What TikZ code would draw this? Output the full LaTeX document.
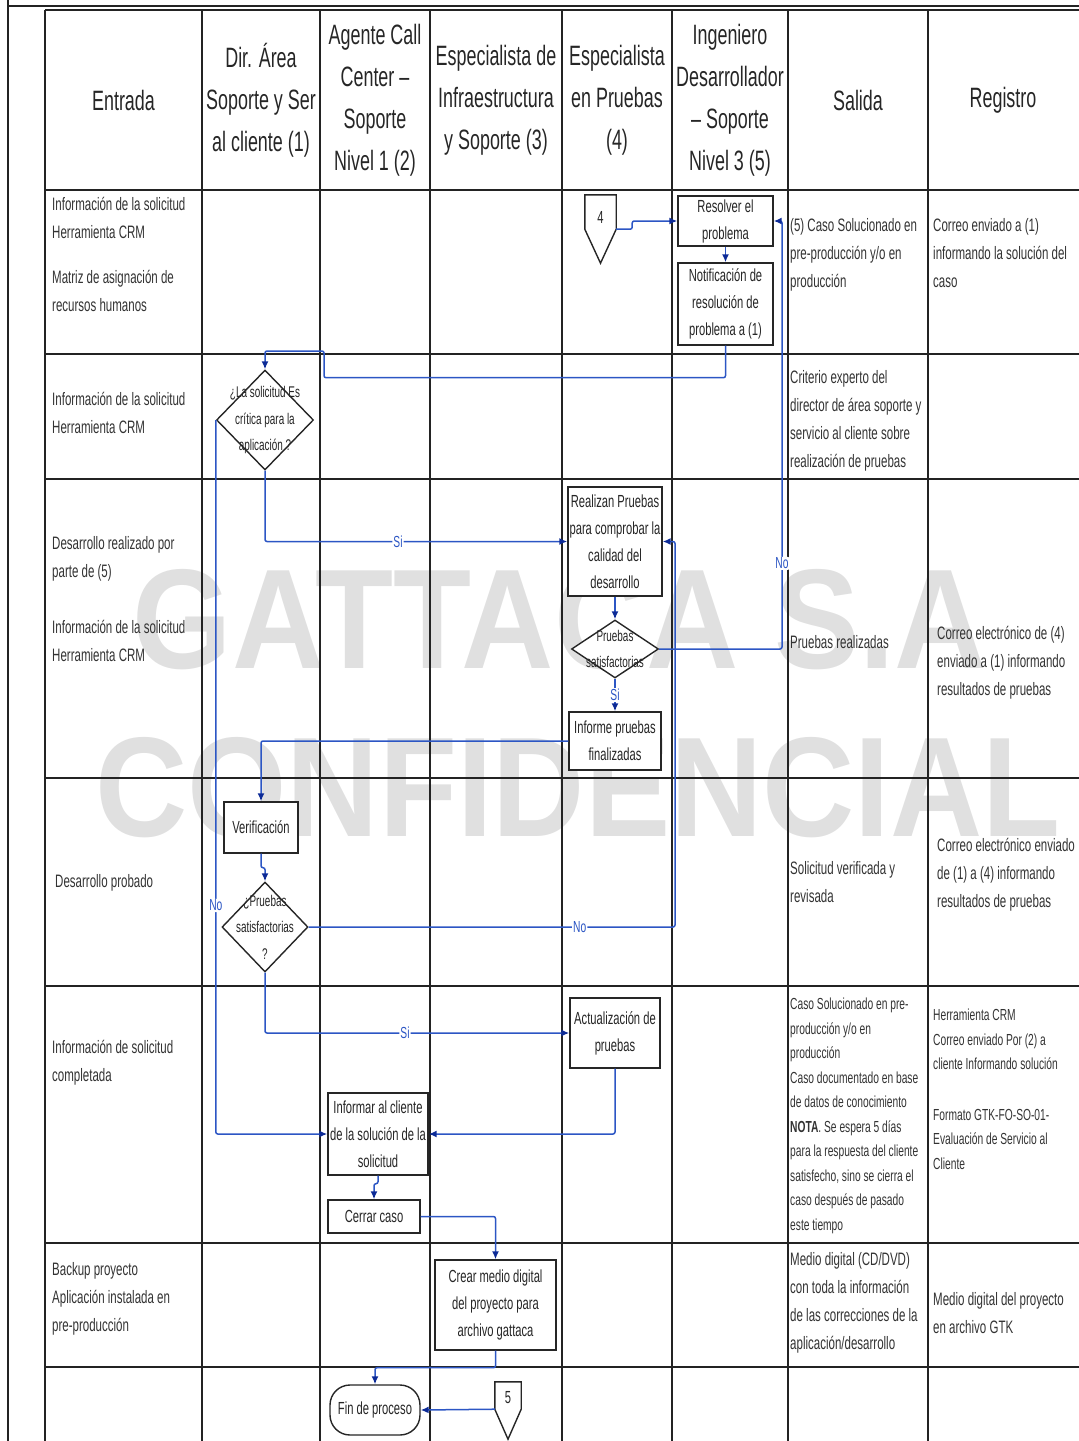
\documentclass[tikz,border=0pt]{standalone}
\usepackage{fontspec}
\setmainfont{Liberation Sans}[FakeStretch=0.64]
\newfontfamily\wmfont{Liberation Sans}[FakeStretch=0.9]
\usepackage{tikz}
\usetikzlibrary{arrows.meta, shapes.geometric, positioning}
\usepackage{xcolor}
\definecolor{flowblue}{RGB}{44,86,196}
\definecolor{tipblue}{RGB}{12,42,150}
\definecolor{gridgray}{RGB}{35,35,35}

\newcommand{\hdtxt}{\fontsize{28}{42}\selectfont}
\newcommand{\celltxt}{\fontsize{18}{28}\selectfont}
\newcommand{\smalltxt}{\fontsize{16}{24.5}\selectfont}
\newcommand{\boxtxt}{\fontsize{17.5}{27}\selectfont}
\newcommand{\dectxt}{\fontsize{15.5}{26.5}\selectfont}
\newcommand{\lbltxt}{\fontsize{16}{18}\selectfont}

\tikzset{
  grid/.style={draw=gridgray, line width=2.2pt},
  header/.style={align=center, font=\hdtxt, text=black!85},
  celltext/.style={
    anchor=north west, align=left, inner sep=0pt,
    font=\celltxt, text=black!80
  },
  activity/.style={
    rectangle, draw=black!85, line width=1.4pt, fill=white,
    align=center, font=\boxtxt, text=black!85, inner sep=1pt
  },
  decision/.style={
    diamond, draw=black!85, line width=1.4pt, fill=white, inner sep=0pt
  },
  dectext/.style={align=center, font=\dectxt, text=black!85, inner sep=0pt},
  offpage/.style={rectangle, inner sep=0pt, font=\boxtxt, text=black!85},
  offline/.style={draw=black!85, line width=1.4pt, fill=white},
  terminal/.style={
    rectangle, rounded corners=20pt, draw=black!85, line width=1.4pt,
    fill=white, align=center, font=\boxtxt, text=black!85
  },
  flow/.style={
    draw=flowblue, line width=1.5pt, rounded corners=2pt,
    -{Latex[length=8pt, width=7pt, color=tipblue]}
  },
  flowlbl/.style={fill=white, text=flowblue, font=\lbltxt, inner sep=1pt},
  watermark/.style={
    font=\wmfont\bfseries\fontsize{142}{142}\selectfont, text=black!12
  }
}

\begin{document}
\begin{tikzpicture}[x=1pt, y=-1pt]
  \useasboundingbox (0,0) rectangle (1079,1441);

  \node[watermark] (wm1) at (560,620) {GATTACA S.A};
  \node[watermark] (wm2) at (578,788) {CONFIDENCIAL};

  \draw[grid, line width=2.6pt] (8,0) -- (8,1441);
  \draw[grid, line width=2.6pt] (8,6) -- (1079,6);
  \foreach \y in {10,190,354,479,778,986,1243,1367}
    \draw[grid] (45,\y) -- (1079,\y);
  \foreach \x in {45,202,320,430,562,672,788,928}
    \draw[grid] (\x,10) -- (\x,1441);

  \node[header] (h-in) at (123.5,100) {Entrada};
  \node[header] (h-dir) at (261,100) {Dir. Área\\Soporte y Ser\\al cliente (1)};
  \node[header] (h-agt) at (375,100) {Agente Call\\Center –\\Soporte\\Nivel 1 (2)};
  \node[header] (h-inf) at (496,100) {Especialista de\\Infraestructura\\y Soporte (3)};
  \node[header] (h-pru) at (617,100) {Especialista\\en Pruebas\\(4)};
  \node[header] (h-dev) at (730,100) {Ingeniero\\Desarrollador\\– Soporte\\Nivel 3 (5)};
  \node[header] (h-out) at (858,100) {Salida};
  \node[header] (h-reg) at (1003,100) {Registro};

  \node[celltext] (in1) at (52,197) {Información de la solicitud\\Herramienta CRM\\[17pt]Matriz de asignación de\\recursos humanos};
  \node[celltext] (in2) at (52,392) {Información de la solicitud\\Herramienta CRM};
  \node[celltext] (in3) at (52,536) {Desarrollo realizado por\\parte de (5)\\[28pt]Información de la solicitud\\Herramienta CRM};
  \node[celltext] (in4) at (55,874) {Desarrollo probado};
  \node[celltext] (in5) at (52,1040) {Información de solicitud\\completada};
  \node[celltext] (in6) at (52,1262) {Backup proyecto\\Aplicación instalada en\\pre-producción};

  \node[celltext] (out1) at (790,218) {(5) Caso Solucionado en\\pre-producción y/o en\\producción};
  \node[celltext] (out2) at (790,370) {Criterio experto del\\director de área soporte y\\servicio al cliente sobre\\realización de pruebas};
  \node[celltext] (out3) at (790,635) {Pruebas realizadas};
  \node[celltext] (out4) at (790,861) {Solicitud verificada y\\revisada};
  \node[celltext, font=\smalltxt] (out5) at (790,998) {Caso Solucionado en pre-\\producción y/o en\\producción\\Caso documentado en base\\de datos de conocimiento\\\textbf{NOTA}. Se espera 5 días\\para la respuesta del cliente\\satisfecho, sino se cierra el\\caso después de pasado\\este tiempo};
  \node[celltext] (out6) at (790,1252) {Medio digital (CD/DVD)\\con toda la información\\de las correcciones de la\\aplicación/desarrollo};

  \node[celltext] (reg1) at (933,218) {Correo enviado a (1)\\informando la solución del\\caso};
  \node[celltext] (reg3) at (937,626) {Correo electrónico de (4)\\enviado a (1) informando\\resultados de pruebas};
  \node[celltext] (reg4) at (937,838) {Correo electrónico enviado\\de (1) a (4) informando\\resultados de pruebas};
  \node[celltext, font=\smalltxt] (reg5) at (933,1009) {Herramienta CRM\\Correo enviado Por (2) a\\cliente Informando solución\\[26pt]Formato GTK-FO-SO-01-\\Evaluación de Servicio al\\Cliente};
  \node[celltext] (reg6) at (933,1292) {Medio digital del proyecto\\en archivo GTK};

  \node[offpage, minimum width=31, minimum height=34] (off4) at (600.5,212) {};
  \draw[offline] (off4.north west) -- (off4.south west) -- ([yshift=-34pt]off4.south)
    -- (off4.south east) -- (off4.north east) -- cycle;
  \node[offpage] (off4-t) at (600.5,217) {4};
  \node[activity, minimum width=95, minimum height=50] (resolver) at (725.5,221) {Resolver el\\problema};
  \node[activity, minimum width=95, minimum height=82] (notif) at (725.5,304) {Notificación de\\resolución de\\problema a (1)};
  \node[decision, minimum width=97, minimum height=100] (crit) at (265,420) {};
  \node[dectext] (crit-t) at (crit) {¿La solicitud Es\\crítica para la\\aplicación ?};
  \node[activity, minimum width=94, minimum height=109] (realizan) at (615,541.5) {Realizan Pruebas\\para comprobar la\\calidad del\\desarrollo};
  \node[decision, minimum width=87, minimum height=58] (satis) at (615,649) {};
  \node[dectext] (satis-t) at (satis) {Pruebas\\satisfactorias};
  \node[activity, minimum width=92, minimum height=58] (informe) at (615,741) {Informe pruebas\\finalizadas};
  \node[activity, minimum width=74, minimum height=51] (verif) at (261,827.5) {Verificación};
  \node[decision, minimum width=86, minimum height=90] (pruebas) at (265,927) {};
  \node[dectext] (pruebas-t) at (pruebas) {¿Pruebas\\satisfactorias\\?};
  \node[activity, minimum width=90, minimum height=70] (actual) at (615,1033) {Actualización de\\pruebas};
  \node[activity, minimum width=100, minimum height=82] (informar) at (378,1134) {Informar al cliente\\de la solución de la\\solicitud};
  \node[activity, minimum width=92, minimum height=33] (cerrar) at (374,1216.5) {Cerrar caso};
  \node[activity, minimum width=121, minimum height=90] (crear) at (495.5,1305) {Crear medio digital\\del proyecto para\\archivo gattaca};
  \node[terminal, minimum width=90, minimum height=50] (fin) at (375,1410) {Fin de proceso};
  \node[offpage, minimum width=26, minimum height=27] (off5) at (508,1395.5) {};
  \draw[offline] (off5.north west) -- (off5.south west) -- ([yshift=-30pt]off5.south)
    -- (off5.south east) -- (off5.north east) -- cycle;
  \node[offpage] (off5-t) at (508,1398) {5};

  \draw[flow] (off4.south east) -- ++(16,0) |- (resolver.west);
  \draw[flow] (resolver) -- (notif);
  \draw[flow] (notif.south) -- ++(0,32) -| (324,351) -| (crit.north);
  \draw[flow] (crit.south) |- node[flowlbl, pos=0.72] (si1) {Si} (realizan.west);
  \draw[flow] (crit.west) |- node[flowlbl, pos=0.34] (no1) {No} (informar.west);
  \draw[flow] (realizan) -- (satis);
  \draw[flow] (satis.east) -| node[flowlbl, pos=0.6] (no2) {No} (782,221) -- (resolver.east);
  \draw[flow] (satis) -- node[flowlbl] (si2) {Si} (informe);
  \draw[flow] (informe.west) -| (verif.north);
  \draw[flow] (verif.south) -- ++(0,14) -| (pruebas.north);
  \draw[flow] (pruebas.east) -| node[flowlbl, pos=0.37] (no3) {No} (675,541.5) -- (realizan.east);
  \draw[flow] (pruebas.south) |- node[flowlbl, pos=0.73] (si3) {Si} (actual.west);
  \draw[flow] (actual.south) |- (informar.east);
  \draw[flow] (informar.south) -- ++(0,8) -| (cerrar.north);
  \draw[flow] (cerrar.east) -| (crear.north);
  \draw[flow] (crear.south) -- ++(0,17) -| (fin.north);
  \draw[flow] (off5.south west) -- (fin.east);
\end{tikzpicture}
\end{document}
